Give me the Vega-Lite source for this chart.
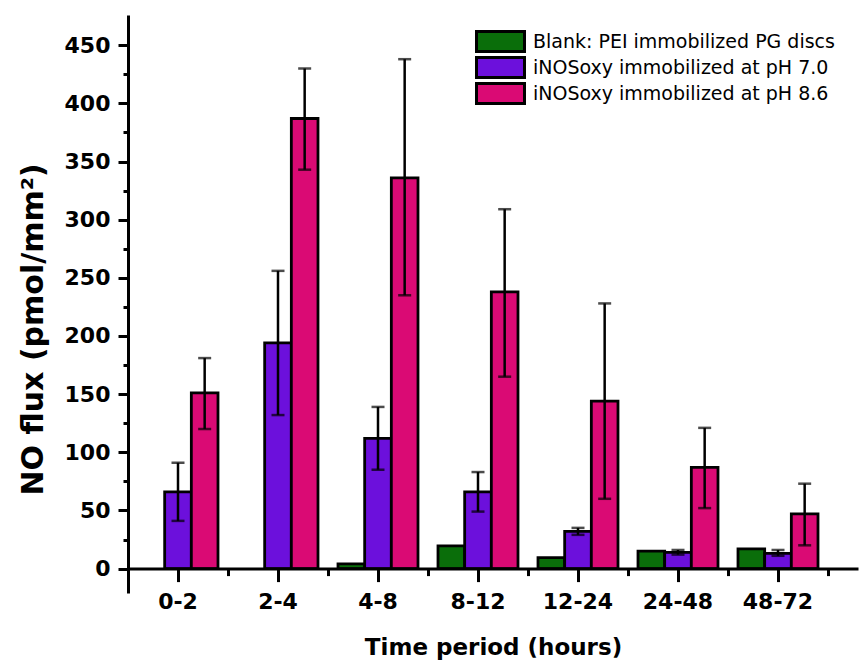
{
  "$schema": "https://vega.github.io/schema/vega-lite/v6.json",
  "width": 730,
  "height": 578,
  "autosize": {"type": "none"},
  "padding": {"left": 128, "top": 15, "right": 3, "bottom": 73},
  "background": "white",
  "config": {"view": {"stroke": null}, "font": "DejaVu Sans"},
  "data": {
    "values": [
      {"period": "0-2", "series": "iNOSoxy immobilized at pH 7.0", "value": 66, "lo": 41, "hi": 91},
      {"period": "0-2", "series": "iNOSoxy immobilized at pH 8.6", "value": 151, "lo": 120, "hi": 181},
      {"period": "2-4", "series": "iNOSoxy immobilized at pH 7.0", "value": 194, "lo": 132, "hi": 256},
      {"period": "2-4", "series": "iNOSoxy immobilized at pH 8.6", "value": 387, "lo": 343, "hi": 430},
      {"period": "4-8", "series": "Blank: PEI immobilized PG discs", "value": 4},
      {"period": "4-8", "series": "iNOSoxy immobilized at pH 7.0", "value": 112, "lo": 85, "hi": 139},
      {"period": "4-8", "series": "iNOSoxy immobilized at pH 8.6", "value": 336, "lo": 235, "hi": 438},
      {"period": "8-12", "series": "Blank: PEI immobilized PG discs", "value": 19.5},
      {"period": "8-12", "series": "iNOSoxy immobilized at pH 7.0", "value": 66, "lo": 49, "hi": 83},
      {"period": "8-12", "series": "iNOSoxy immobilized at pH 8.6", "value": 238, "lo": 165, "hi": 309},
      {"period": "12-24", "series": "Blank: PEI immobilized PG discs", "value": 9.5},
      {"period": "12-24", "series": "iNOSoxy immobilized at pH 7.0", "value": 32, "lo": 29, "hi": 35},
      {"period": "12-24", "series": "iNOSoxy immobilized at pH 8.6", "value": 144, "lo": 60, "hi": 228},
      {"period": "24-48", "series": "Blank: PEI immobilized PG discs", "value": 15},
      {"period": "24-48", "series": "iNOSoxy immobilized at pH 7.0", "value": 14, "lo": 12, "hi": 16},
      {"period": "24-48", "series": "iNOSoxy immobilized at pH 8.6", "value": 87, "lo": 52, "hi": 121},
      {"period": "48-72", "series": "Blank: PEI immobilized PG discs", "value": 17},
      {"period": "48-72", "series": "iNOSoxy immobilized at pH 7.0", "value": 13, "lo": 11, "hi": 16},
      {"period": "48-72", "series": "iNOSoxy immobilized at pH 8.6", "value": 47, "lo": 20, "hi": 73}
    ]
  },
  "resolve": {"axis": {"x": "independent", "y": "independent"}},
  "layer": [
    {
      "mark": {"type": "bar", "stroke": "black", "strokeWidth": 2.8},
      "encoding": {
        "x": {
          "field": "period", "type": "nominal",
          "sort": ["0-2", "2-4", "4-8", "8-12", "12-24", "24-48", "48-72"],
          "scale": {"paddingInner": 0.2, "paddingOuter": 0.25, "align": 0.2},
          "axis": {
            "orient": "bottom", "offset": -24.4, "zindex": 1,
            "title": "Time period (hours)", "labelAngle": 0,
            "domainColor": "black", "domainWidth": 3,
            "tickColor": "black", "tickWidth": 3, "tickSize": 13,
            "labelFont": "DejaVu Sans", "labelFontWeight": "bold", "labelFontSize": 22, "labelColor": "black", "labelPadding": 10,
            "titleFont": "DejaVu Sans", "titleFontWeight": "bold", "titleFontSize": 23, "titleColor": "black", "titlePadding": 24
          }
        },
        "xOffset": {
          "field": "series", "type": "nominal",
          "sort": ["Blank: PEI immobilized PG discs", "iNOSoxy immobilized at pH 7.0", "iNOSoxy immobilized at pH 8.6"],
          "scale": {"paddingInner": 0, "paddingOuter": 0}
        },
        "y": {
          "field": "value", "type": "quantitative",
          "scale": {"domain": [-21, 476], "nice": false, "zero": false},
          "axis": {
            "orient": "left", "values": [0, 50, 100, 150, 200, 250, 300, 350, 400, 450],
            "title": "NO flux (pmol/mm²)", "grid": false,
            "domainColor": "black", "domainWidth": 3,
            "tickColor": "black", "tickWidth": 3, "tickSize": 10,
            "labelFont": "DejaVu Sans", "labelFontWeight": "bold", "labelFontSize": 22, "labelColor": "black", "labelPadding": 8,
            "titleFont": "DejaVu Sans", "titleFontWeight": "bold", "titleFontSize": 30, "titleColor": "black", "titlePadding": 16,
            "titleY": 314
          }
        },
        "y2": {"datum": 0},
        "color": {
          "field": "series", "type": "nominal",
          "scale": {
            "domain": ["Blank: PEI immobilized PG discs", "iNOSoxy immobilized at pH 7.0", "iNOSoxy immobilized at pH 8.6"],
            "range": ["#0a6e0a", "#6c10dc", "#da0a74"]
          },
          "legend": {
            "title": null, "orient": "none", "legendX": 363, "legendY": 17, "padding": 0,
            "symbolType": "M-3,-1.25H3V1.25H-3Z", "symbolSize": 256,
            "symbolStrokeColor": "black", "symbolStrokeWidth": 3, "symbolOpacity": 1,
            "labelFont": "DejaVu Sans", "labelFontSize": 19, "labelColor": "black",
            "labelOffset": 23, "rowPadding": -7, "labelLimit": 400
          }
        }
      }
    },
    {
      "transform": [{"filter": "isValid(datum.lo)"}],
      "mark": {"type": "rule", "color": "black", "strokeWidth": 2.5},
      "encoding": {
        "x": {
          "field": "period", "type": "nominal",
          "sort": ["0-2", "2-4", "4-8", "8-12", "12-24", "24-48", "48-72"],
          "axis": {
            "orient": "bottom", "offset": -24.4, "zindex": 1, "title": null,
            "labels": false, "domain": false, "bandPosition": 1, "tickOffset": 10,
            "tickColor": "black", "tickWidth": 3, "tickSize": 7
          }
        },
        "xOffset": {
          "field": "series", "type": "nominal",
          "sort": ["Blank: PEI immobilized PG discs", "iNOSoxy immobilized at pH 7.0", "iNOSoxy immobilized at pH 8.6"]
        },
        "y": {
          "field": "lo", "type": "quantitative",
          "axis": {
            "orient": "left", "values": [25, 75, 125, 175, 225, 275, 325, 375, 425],
            "title": null, "labels": false, "domain": false, "grid": false,
            "tickColor": "black", "tickWidth": 3, "tickSize": 5
          }
        },
        "y2": {"field": "hi"}
      }
    },
    {
      "transform": [{"filter": "isValid(datum.lo)"}],
      "mark": {"type": "tick", "color": "black", "thickness": 2.5, "size": 13},
      "encoding": {
        "x": {"field": "period", "type": "nominal", "sort": ["0-2", "2-4", "4-8", "8-12", "12-24", "24-48", "48-72"], "axis": null},
        "xOffset": {"field": "series", "type": "nominal", "sort": ["Blank: PEI immobilized PG discs", "iNOSoxy immobilized at pH 7.0", "iNOSoxy immobilized at pH 8.6"]},
        "y": {"field": "hi", "type": "quantitative", "axis": null}
      }
    },
    {
      "transform": [{"filter": "isValid(datum.lo)"}],
      "mark": {"type": "tick", "color": "black", "thickness": 2.5, "size": 13},
      "encoding": {
        "x": {"field": "period", "type": "nominal", "sort": ["0-2", "2-4", "4-8", "8-12", "12-24", "24-48", "48-72"], "axis": null},
        "xOffset": {"field": "series", "type": "nominal", "sort": ["Blank: PEI immobilized PG discs", "iNOSoxy immobilized at pH 7.0", "iNOSoxy immobilized at pH 8.6"]},
        "y": {"field": "lo", "type": "quantitative", "axis": null}
      }
    }
  ]
}
